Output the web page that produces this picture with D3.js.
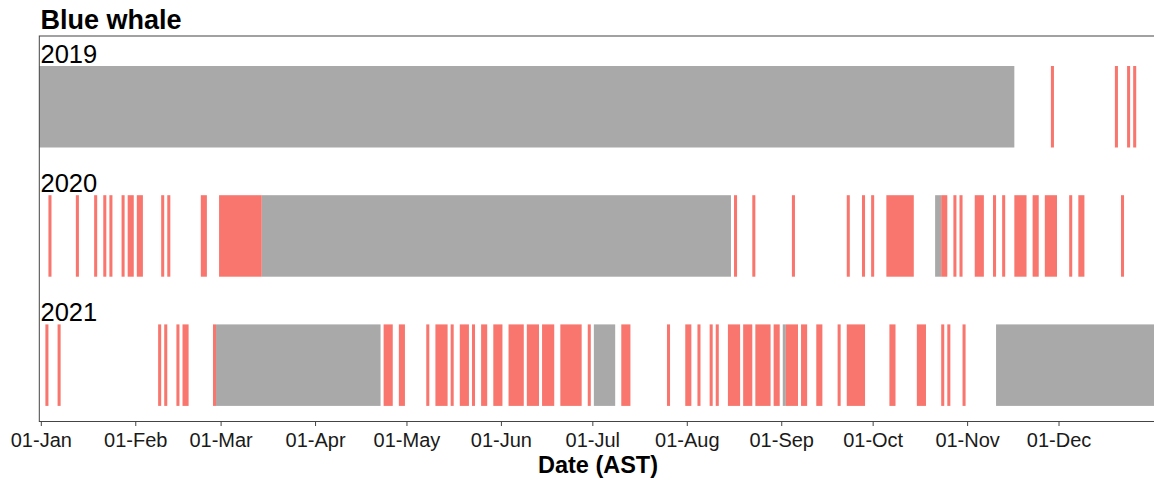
<!DOCTYPE html>
<html>
<head>
<meta charset="utf-8">
<script src="https://cdn.jsdelivr.net/npm/d3@7"></script>
<style>
  html, body { margin: 0; padding: 0; background: #ffffff; }
  svg { display: block; font-family: "Liberation Sans", Arial, Helvetica, sans-serif; }
</style>
</head>
<body>
<svg id="chart" width="1154" height="482"></svg>
<script>
// Years shown as rows
const years = ["2019", "2020", "2021"];

// Periods without recordings, as [first day, last day] (day of year, 0 = 1 Jan)
const noEffort2019 = [[0, 319]];
const noEffort2020 = [[73, 226], [294, 295]];
const noEffort2021 = [[58, 111], [182, 188], [244, 244], [314, 365]];

// Days with blue whale presence, as [first day, last day] runs
const presence2019 = [[332, 332], [353, 353], [357, 357], [359, 359]];
const presence2020 = [
  [3, 3], [12, 12], [18, 18], [21, 21], [23, 23], [27, 27], [29, 30], [32, 33],
  [40, 40], [42, 42], [53, 54], [59, 72], [228, 228], [234, 234], [247, 247],
  [265, 265], [270, 270], [273, 273], [278, 286], [296, 297], [300, 300],
  [302, 302], [307, 309], [313, 313], [316, 316], [320, 323], [326, 327],
  [330, 333], [338, 338], [341, 342], [355, 355]
];
const presence2021 = [
  [2, 2], [6, 6], [39, 39], [41, 41], [45, 45], [47, 48], [57, 57],
  [113, 115], [118, 119], [127, 127], [130, 133], [135, 135], [138, 140],
  [142, 142], [145, 146], [149, 151], [154, 158], [160, 163], [165, 168],
  [171, 177], [180, 180], [191, 193], [206, 206], [212, 213], [216, 216],
  [220, 220], [222, 222], [226, 229], [231, 233], [235, 239], [241, 242],
  [245, 248], [250, 251], [255, 256], [262, 262], [265, 270], [279, 280],
  [288, 290], [296, 296], [298, 298], [303, 303]
];

// Axis ticks: first day of each month and its label
const monthStartDays = [0, 31, 59, 90, 120, 151, 181, 212, 243, 273, 304, 334];
const tickLabels = ["01-Jan", "01-Feb", "01-Mar", "01-Apr", "01-May", "01-Jun",
                    "01-Jul", "01-Aug", "01-Sep", "01-Oct", "01-Nov", "01-Dec"];

const noEffortByYear = { "2019": noEffort2019, "2020": noEffort2020, "2021": noEffort2021 };
const presenceByYear = { "2019": presence2019, "2020": presence2020, "2021": presence2021 };

const colPresence = "#F8766D";
const colNoEffort = "#A9A9A9";

const svg = d3.select("#chart");

const panel = { left: 39.3, top: 36, bottom: 421.5, right: 1160 };

const x = d3.scaleLinear().domain([-0.5, 365.5]).range([39.3, 1154.5]);
const y = d3.scaleBand().domain(years).range([36, 435.9])
  .paddingInner(0.3692).paddingOuter(0.2322);

// Title
svg.append("text")
  .attr("x", 40.5).attr("y", 29.3)
  .attr("font-size", 27).attr("font-weight", "bold").attr("fill", "#000")
  .text("Blue whale");

// Panel background
svg.append("rect")
  .attr("x", panel.left).attr("y", panel.top)
  .attr("width", panel.right - panel.left).attr("height", panel.bottom - panel.top)
  .attr("fill", "#ffffff");

function runs(obj) {
  return years.flatMap(yr => obj[yr].map(r => ({ year: yr, start: r[0], end: r[1] })));
}

// No-recording periods
svg.append("g").selectAll("rect")
  .data(runs(noEffortByYear))
  .join("rect")
  .attr("x", d => x(d.start - 0.5))
  .attr("width", d => x(d.end + 0.5) - x(d.start - 0.5))
  .attr("y", d => y(d.year))
  .attr("height", y.bandwidth())
  .attr("fill", colNoEffort);

// Presence days
svg.append("g").selectAll("rect")
  .data(runs(presenceByYear))
  .join("rect")
  .attr("x", d => x(d.start - 0.5))
  .attr("width", d => x(d.end + 0.5) - x(d.start - 0.5))
  .attr("y", d => y(d.year))
  .attr("height", y.bandwidth())
  .attr("fill", colPresence);

// Year labels above each row
svg.append("g").selectAll("text")
  .data(years)
  .join("text")
  .attr("x", 40.5)
  .attr("y", d => y(d) - 3.5)
  .attr("font-size", 25.5)
  .attr("fill", "#000")
  .text(d => d);

// Panel border
svg.append("rect")
  .attr("x", panel.left).attr("y", panel.top)
  .attr("width", panel.right - panel.left).attr("height", panel.bottom - panel.top)
  .attr("fill", "none").attr("stroke", "#444").attr("stroke-width", 1);

// Bottom axis
const xAxis = d3.axisBottom(x)
  .tickValues(monthStartDays)
  .tickFormat((d, i) => tickLabels[i])
  .tickSize(4.5)
  .tickPadding(6.5);

const axisG = svg.append("g")
  .attr("transform", `translate(0,${panel.bottom})`)
  .call(xAxis);
axisG.select(".domain").remove();
axisG.selectAll(".tick line").attr("stroke", "#444");
axisG.selectAll(".tick text")
  .attr("font-size", 20)
  .attr("font-family", "Liberation Sans, Arial, sans-serif")
  .attr("fill", "#1a1a1a");

// Axis title
svg.append("text")
  .attr("x", 598).attr("y", 472.5)
  .attr("text-anchor", "middle")
  .attr("font-size", 23.5).attr("font-weight", "bold").attr("fill", "#000")
  .text("Date (AST)");
</script>
</body>
</html>
